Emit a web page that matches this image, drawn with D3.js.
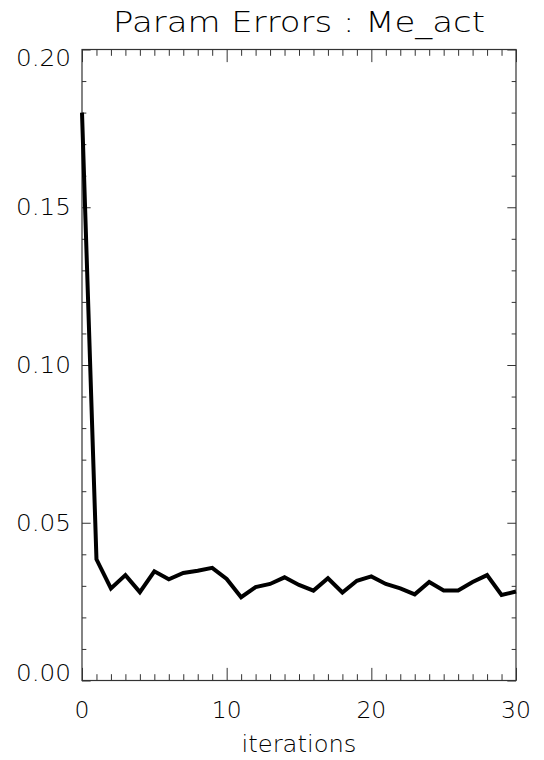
<!DOCTYPE html>
<html>
<head>
<meta charset="utf-8">
<script src="https://cdn.jsdelivr.net/npm/d3@7"></script>
<style>
  html, body { margin: 0; padding: 0; background: #fff; }
  svg text { font-family: "DejaVu Sans", Lato, sans-serif; font-weight: 200; fill: #000; }
</style>
</head>
<body>
<svg id="chart" width="544" height="760"></svg>
<script>
const title = "Param Errors : Me_act";
const xLabel = "iterations";
const iterations = [0,1,2,3,4,5,6,7,8,9,10,11,12,13,14,15,16,17,18,19,20,21,22,23,24,25,26,27,28,29,30];
const errors = [0.180,0.0384,0.0292,0.0334,0.0280,0.0346,0.0321,0.0341,0.0348,0.0357,0.0322,0.0264,0.0296,0.0306,0.0327,0.0303,0.0285,0.0324,0.0279,0.0316,0.0330,0.0306,0.0292,0.0273,0.0312,0.0285,0.0285,0.0312,0.0334,0.0271,0.0282];
const xTicks = [0,10,20,30];
const xTickLabels = ["0","10","20","30"];
const yTicks = [0.00,0.05,0.10,0.15,0.20];
const yTickLabels = ["0.00","0.05","0.10","0.15","0.20"];

const L = 82, R = 516, T = 49.5, B = 680.5;
const svg = d3.select("#chart");
const x = d3.scaleLinear().domain([0, 30]).range([L, R]);
const y = d3.scaleLinear().domain([0, 0.20]).range([B, T]);

const axisColor = "#333";
const xMaj = 0.02 * (B - T), yMaj = 0.02 * (R - L);
const xMinor = d3.range(0, 31, 1).filter(v => v % 10 !== 0);
const yMinor = d3.range(0, 21, 1).map(v => v / 100).filter((v, i) => i % 5 !== 0);

function styleAxis(g) {
  g.select(".domain").remove();
  g.selectAll("line").attr("stroke", axisColor).attr("stroke-width", 1);
  g.selectAll("text").remove();
}

// frame
svg.append("rect").attr("x", L).attr("y", T).attr("width", R - L).attr("height", B - T)
  .attr("fill", "none").attr("stroke", axisColor).attr("stroke-width", 1.2);

// bottom ticks
svg.append("g").attr("transform", `translate(0,${B})`)
  .call(d3.axisBottom(x).tickValues(xTicks).tickSize(-xMaj).tickFormat("")).call(styleAxis);
svg.append("g").attr("transform", `translate(0,${B})`)
  .call(d3.axisBottom(x).tickValues(xMinor).tickSize(-xMaj / 2).tickFormat("")).call(styleAxis);
// top ticks
svg.append("g").attr("transform", `translate(0,${T})`)
  .call(d3.axisTop(x).tickValues(xTicks).tickSize(-xMaj).tickFormat("")).call(styleAxis);
svg.append("g").attr("transform", `translate(0,${T})`)
  .call(d3.axisTop(x).tickValues(xMinor).tickSize(-xMaj / 2).tickFormat("")).call(styleAxis);
// left ticks
svg.append("g").attr("transform", `translate(${L},0)`)
  .call(d3.axisLeft(y).tickValues(yTicks).tickSize(-yMaj).tickFormat("")).call(styleAxis);
svg.append("g").attr("transform", `translate(${L},0)`)
  .call(d3.axisLeft(y).tickValues(yMinor).tickSize(-yMaj / 2).tickFormat("")).call(styleAxis);
// right ticks
svg.append("g").attr("transform", `translate(${R},0)`)
  .call(d3.axisRight(y).tickValues(yTicks).tickSize(-yMaj).tickFormat("")).call(styleAxis);
svg.append("g").attr("transform", `translate(${R},0)`)
  .call(d3.axisRight(y).tickValues(yMinor).tickSize(-yMaj / 2).tickFormat("")).call(styleAxis);

// y tick labels
const fs = 22.5;
svg.append("g").selectAll("text").data(yTicks).join("text")
  .attr("x", L - 11)
  .attr("y", (d, i) => {
    if (i === 0) return B;                 // bottom label sits above axis
    if (i === yTicks.length - 1) return T + 16.5;  // top label sits below top
    return y(d) + 8.2;
  })
  .attr("text-anchor", "end")
  .attr("font-size", fs)
  .attr("textLength", 55).attr("lengthAdjust", "spacingAndGlyphs")
  .text((d, i) => yTickLabels[i]);

// x tick labels
svg.append("g").selectAll("text").data(xTicks).join("text")
  .attr("x", d => x(d))
  .attr("y", 718)
  .attr("text-anchor", "middle")
  .attr("font-size", 23.5)
  .text((d, i) => xTickLabels[i]);

// x label
svg.append("text").attr("x", (L + R) / 2).attr("y", 752)
  .attr("text-anchor", "middle").attr("font-size", fs)
  .attr("textLength", 115).attr("lengthAdjust", "spacingAndGlyphs")
  .text(xLabel);

// title
svg.append("text").attr("x", (L + R) / 2).attr("y", 32)
  .attr("text-anchor", "middle").attr("font-size", 28)
  .attr("textLength", 372).attr("lengthAdjust", "spacingAndGlyphs")
  .text(title);

// data line
const line = d3.line().x((d, i) => x(iterations[i])).y(d => y(d));
svg.append("path").datum(errors)
  .attr("d", line)
  .attr("fill", "none").attr("stroke", "#000").attr("stroke-width", 4)
  .attr("stroke-linejoin", "miter");
</script>
</body>
</html>
